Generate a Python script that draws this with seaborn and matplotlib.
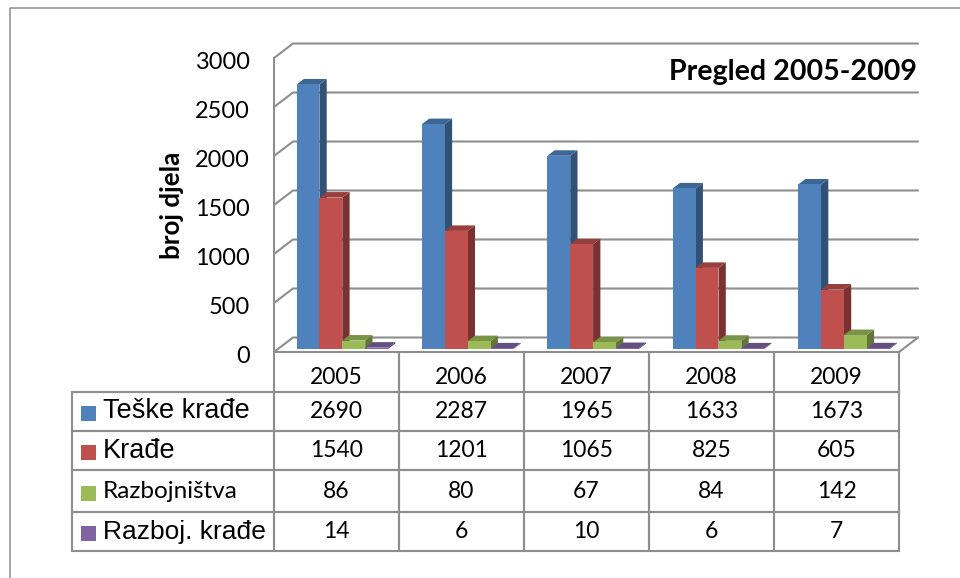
import numpy as np
import pandas as pd
import matplotlib
matplotlib.use("Agg")
import matplotlib.pyplot as plt
from matplotlib.lines import Line2D
from matplotlib.patches import Polygon, Rectangle
from matplotlib.transforms import ScaledTranslation
import matplotlib.colors as mc
import seaborn as sns

years = ["2005", "2006", "2007", "2008", "2009"]
series = ["Teške krađe", "Krađe", "Razbojništva", "Razboj. krađe"]
teske_krade = [2690, 2287, 1965, 1633, 1673]
krade = [1540, 1201, 1065, 825, 605]
razbojnistva = [86, 80, 67, 84, 142]
razboj_krade = [14, 6, 10, 6, 7]
colors = ["#4F81BD", "#C0504D", "#9BBB59", "#8064A2"]
yticks = [0, 500, 1000, 1500, 2000, 2500, 3000]

W, H = 960, 578
GRAY = "#8E8E8E"
CALIBRI = "Lato"

sns.set_theme(style="white")
plt.rcParams["font.family"] = [CALIBRI, "DejaVu Sans"]

df = pd.DataFrame({
    "year": years * 4,
    "series": np.repeat(series, 5),
    "value": teske_krade + krade + razbojnistva + razboj_krade,
})


def rect(x0, y_top, x1, y_bot):
    return [x0 / W, 1 - y_bot / H, (x1 - x0) / W, (y_bot - y_top) / H]


fig = plt.figure(figsize=(W / 100, H / 100), dpi=100, facecolor="white")

# outer frame (left and top edges only are visible)
fig.add_artist(Line2D([9.5 / W, 9.5 / W, 1], [0, 1 - 7.5 / H, 1 - 7.5 / H], color=GRAY, lw=1.1))

# wall axes: front plane of the pseudo-3D box
wall = fig.add_axes(rect(274, 58, 899, 352), zorder=0)
wall.set_xlim(0, 1)
wall.set_ylim(0, 3000)
wall.patch.set_visible(False)
for s in wall.spines.values():
    s.set_visible(False)
wall.set_xticks([])
wall.set_yticks(yticks)
wall.tick_params(axis="y", length=0, pad=17.5, labelsize=16.9, labelcolor="black")
shift = ScaledTranslation(0, -2.2 / 100, fig.dpi_scale_trans)
for lab in wall.get_yticklabels():
    lab.set_fontfamily(CALIBRI)
    lab.set_transform(lab.get_transform() + shift)
wall.set_ylabel("broj djela", fontsize=18.7, fontweight="bold", color="black")
wall.yaxis.set_label_coords(-0.144, 0.50)

back_dx = 19 / 625
back_dy = 14.5 * 3000 / 294
lk = dict(color=GRAY, lw=1.5, clip_on=False, solid_capstyle="round", zorder=1)
for t in yticks:
    wall.plot([0, back_dx, 1 + back_dx], [t, t + back_dy, t + back_dy], **lk)
wall.plot([0, 0], [0, 3000], **lk)
wall.plot([1, 1 + back_dx], [0, back_dy], **lk)

# bar axes: bars on the floor, slightly in front of the back wall
ax = fig.add_axes(rect(279.6, 54, 906.6, 349), zorder=2)
ax.patch.set_visible(False)
sns.barplot(data=df, x="year", y="value", hue="series", hue_order=series, palette=colors,
            order=years, width=0.73, gap=0, saturation=1, legend=False, errorbar=None,
            linewidth=0, ax=ax)
ax.set_xlim(-0.5, 4.5)
ax.set_ylim(0, 3000)
ax.set_axis_off()

dx = 7.3 / 125.4
dy = 5.5 * 3000 / 295
for i, (cont, col) in enumerate(zip(ax.containers, colors)):
    rgb = np.array(mc.to_rgb(col))
    for bar in cont:
        x0, w, h = bar.get_x(), bar.get_width(), bar.get_height()
        x1 = x0 + w
        bar.set_zorder(3 + i * 3 + 2)
        ax.add_patch(Polygon([(x1, 0), (x1 + dx, dy), (x1 + dx, h + dy), (x1, h)], closed=True,
                             fc=rgb * 0.63, ec="none", clip_on=False, zorder=3 + i * 3))
        ax.add_patch(Polygon([(x0, h), (x0 + dx, h + dy), (x1 + dx, h + dy), (x1, h)], closed=True,
                             fc=rgb * 0.79, ec="none", clip_on=False, zorder=3 + i * 3 + 1))

fig.text(917 / W, 1 - 72 / H, "Pregled 2005-2009", ha="right", va="center",
         fontsize=20.6, fontweight="bold", color="black", family=CALIBRI)

# data table
row_edges = [352, 392, 431, 470, 512, 551]
col_edges = [72, 274, 399, 524, 649, 774, 899]
tb = fig.add_axes(rect(72, 352, 899, 551), zorder=3)
tb.set_xlim(72, 899)
tb.set_ylim(551, 352)
tb.set_axis_off()
tb.patch.set_visible(False)

rows = [[""] * 6]
for name, vals in zip(series, [teske_krade, krade, razbojnistva, razboj_krade]):
    rows.append([name] + [str(v) for v in vals])
table = tb.table(cellText=rows, cellLoc="center", bbox=[0, 0, 1, 1],
                 colWidths=list(np.diff(col_edges)))
table.auto_set_font_size(False)
heights = np.diff(row_edges)
for (r, c), cell in table.get_celld().items():
    cell.set_height(heights[r])
    cell.set_edgecolor(GRAY)
    cell.set_linewidth(1.5)
    cell.set_facecolor("none")
    txt = cell.get_text()
    txt.set_color("black")
    txt.set_fontfamily(CALIBRI)
    txt.set_fontsize(16.5)
    if r == 0 and c == 0:
        cell.visible_edges = "B"
    if c == 0 and r > 0:
        cell.PAD = 31 / 202
        cell._loc = "left"
        txt.set_horizontalalignment("left")
        name = series[r - 1]
        if name == "Razbojništva":
            txt.set_fontsize(17.5)
        else:
            txt.set_fontfamily("Liberation Sans")
            txt.set_fontsize(19 if name == "Razboj. krađe" else 19.5)

for j, yr in enumerate(years):
    tb.text((col_edges[j + 1] + col_edges[j + 2]) / 2, 378, yr, ha="center", va="center",
            fontsize=16.5, color="black", family=CALIBRI)

for r, col in enumerate(colors):
    yc = (row_edges[r + 1] + row_edges[r + 2]) / 2 + 2
    tb.add_patch(Rectangle((81, yc - 7.5), 15, 15, fc=col, ec="none", zorder=5))

fig.savefig("out.png", dpi=100, facecolor="white")
